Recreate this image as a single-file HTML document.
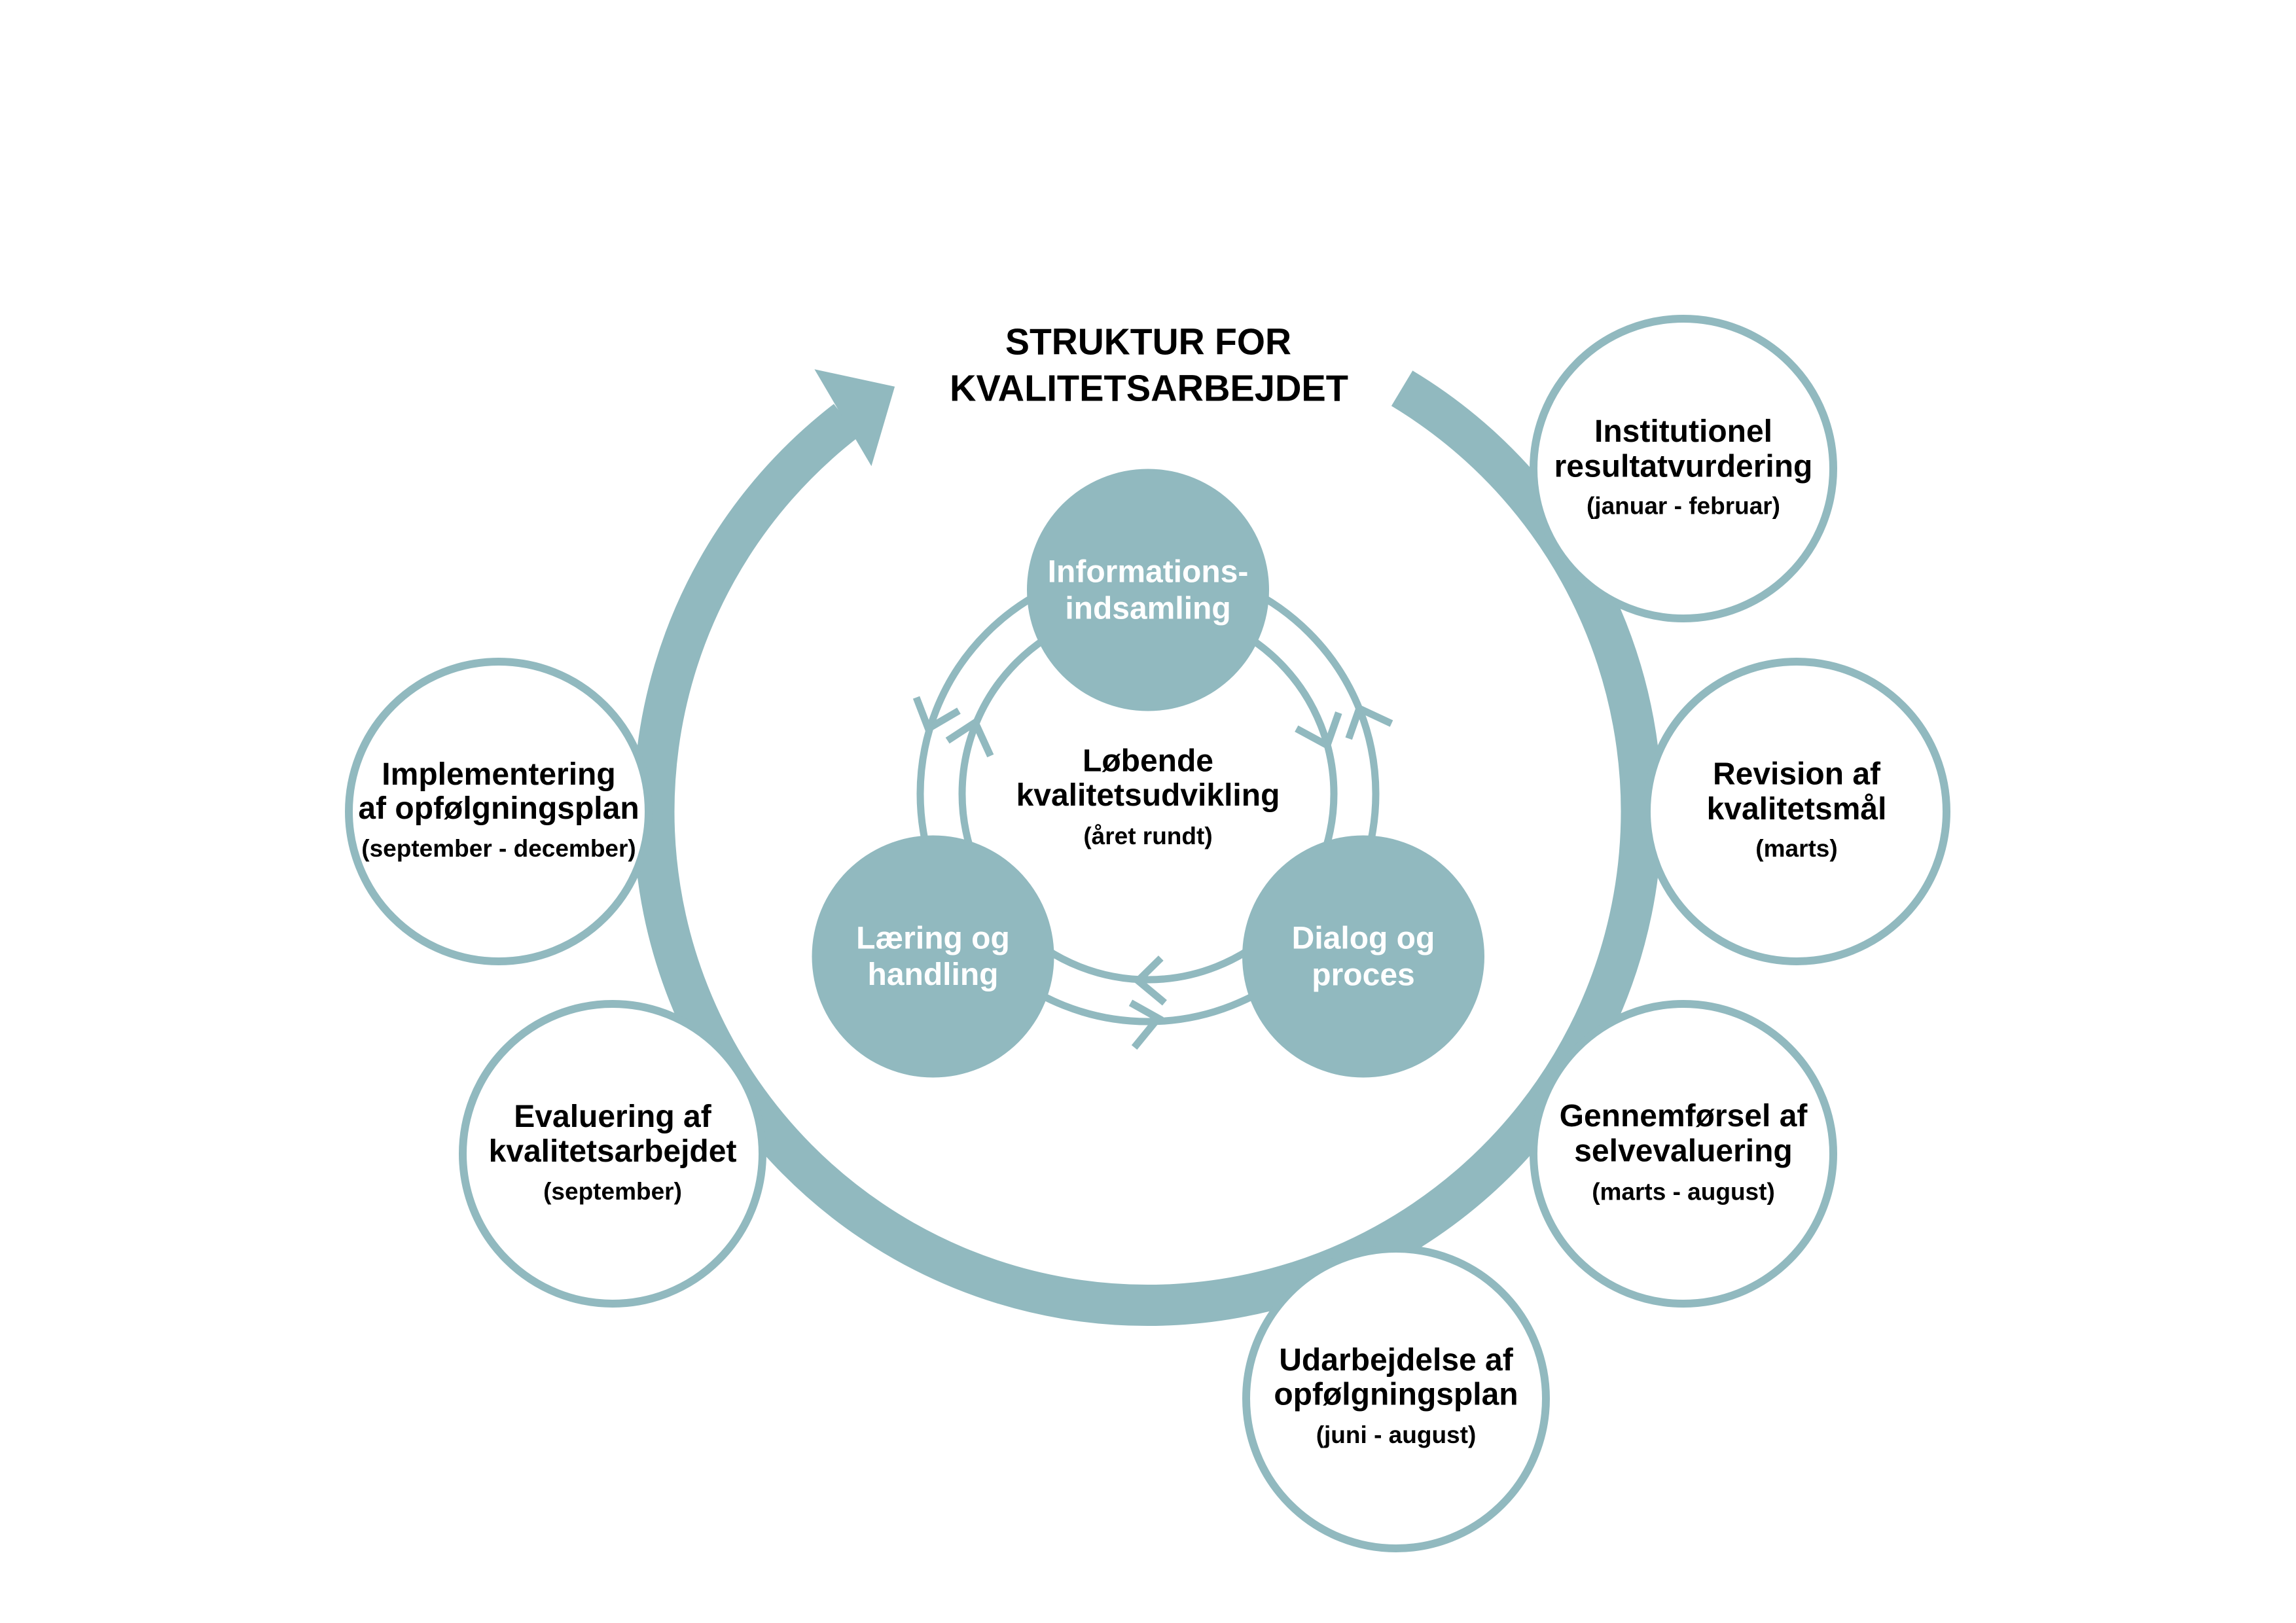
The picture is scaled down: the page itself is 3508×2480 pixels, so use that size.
<!DOCTYPE html>
<html>
<head>
<meta charset="utf-8">
<style>
  html, body { margin: 0; padding: 0; background: #ffffff; }
  body { width: 3508px; height: 2480px; overflow: hidden; }
  svg { display: block; }
  .t { font-family: "Liberation Sans", "DejaVu Sans", sans-serif; font-weight: bold; text-anchor: middle; }
  .big { font-size: 48px; fill: #000; }
  .sm { font-size: 37px; fill: #000; }
  .wh { font-size: 48px; fill: #ffffff; }
  .ttl { font-size: 57px; fill: #000; }
</style>
</head>
<body>
<svg width="3508" height="2480" viewBox="0 0 3508 2480" xmlns="http://www.w3.org/2000/svg">
  <rect x="0" y="0" width="3508" height="2480" fill="#ffffff"/>

  <!-- Big outer ring arc -->
  <path d="M 2142.1 593.3 A 754.5 754.5 0 1 1 1293.2 642.2" fill="none" stroke="#91B9BF" stroke-width="63" stroke-linecap="butt"/>
  <!-- Arrowhead -->
  <polygon points="1244.4,564.3 1367.1,590.7 1331.4,712.3" fill="#91B9BF"/>

  <!-- Outer outlined circles -->
  <g fill="#ffffff" stroke="#91B9BF" stroke-width="12">
    <circle cx="2572" cy="716" r="229"/>
    <circle cx="2745" cy="1240" r="229"/>
    <circle cx="2572" cy="1763" r="229"/>
    <circle cx="2133" cy="2137" r="229"/>
    <circle cx="936" cy="1763" r="229"/>
    <circle cx="762" cy="1240" r="229"/>
  </g>

  <!-- Inner double ring -->
  <g fill="none" stroke="#91B9BF" stroke-width="11">
    <circle cx="1754" cy="1213" r="284"/>
    <circle cx="1754" cy="1213" r="348"/>
  </g>
  <!-- Chevrons -->
  <g fill="none" stroke="#91B9BF" stroke-width="11" stroke-linecap="butt" stroke-linejoin="miter">
    <polyline points="1400,1065.7 1418.3,1113.3 1465,1086"/>
    <polyline points="1447.7,1131.7 1490,1104 1513.3,1155"/>
    <polyline points="1980.8,1113.3 2027.8,1138.8 2045.3,1089"/>
    <polyline points="2060.7,1128.6 2076.9,1082.7 2126,1105.6"/>
    <polyline points="1773.8,1464 1738.8,1498.5 1779.4,1532.3"/>
    <polyline points="1727.5,1532.3 1769.6,1555.9 1733.1,1600.5"/>
  </g>

  <!-- Filled inner circles -->
  <g fill="#91B9BF">
    <circle cx="1754" cy="901.5" r="185"/>
    <circle cx="1425.5" cy="1461.5" r="185"/>
    <circle cx="2083" cy="1461.5" r="185"/>
  </g>

  <!-- Title -->
  <text class="t ttl" x="1754.5" y="541.7" textLength="437" lengthAdjust="spacingAndGlyphs">STRUKTUR FOR</text>
  <text class="t ttl" x="1755.5" y="612.3" textLength="609" lengthAdjust="spacingAndGlyphs">KVALITETSARBEJDET</text>

  <!-- Inner circle labels -->
  <text class="t wh" x="1754" y="889.4">Informations-</text>
  <text class="t wh" x="1754" y="945.5">indsamling</text>

  <text class="t wh" x="1425.5" y="1449.4">Læring og</text>
  <text class="t wh" x="1425.5" y="1505">handling</text>

  <text class="t wh" x="2083" y="1449.4">Dialog og</text>
  <text class="t wh" x="2083" y="1505.5">proces</text>

  <!-- Center text -->
  <text class="t big" x="1754" y="1178.3">Løbende</text>
  <text class="t big" x="1754" y="1231.2">kvalitetsudvikling</text>
  <text class="t sm" x="1754" y="1290">(året rundt)</text>

  <!-- Outer circle labels -->
  <text class="t big" x="2572" y="675">Institutionel</text>
  <text class="t big" x="2572" y="728.5">resultatvurdering</text>
  <text class="t sm" x="2572" y="785.6">(januar - februar)</text>

  <text class="t big" x="2745" y="1198.4">Revision af</text>
  <text class="t big" x="2745" y="1252">kvalitetsmål</text>
  <text class="t sm" x="2745" y="1309">(marts)</text>

  <text class="t big" x="2572" y="1721">Gennemførsel af</text>
  <text class="t big" x="2572" y="1774.7">selvevaluering</text>
  <text class="t sm" x="2572" y="1833.5">(marts - august)</text>

  <text class="t big" x="2133" y="2094">Udarbejdelse af</text>
  <text class="t big" x="2133" y="2146.5">opfølgningsplan</text>
  <text class="t sm" x="2133" y="2205">(juni - august)</text>

  <text class="t big" x="936" y="1722">Evaluering af</text>
  <text class="t big" x="936" y="1774.8">kvalitetsarbejdet</text>
  <text class="t sm" x="936" y="1833">(september)</text>

  <text class="t big" x="762" y="1199">Implementering</text>
  <text class="t big" x="762" y="1251">af opfølgningsplan</text>
  <text class="t sm" x="762" y="1309">(september - december)</text>
</svg>
</body>
</html>
